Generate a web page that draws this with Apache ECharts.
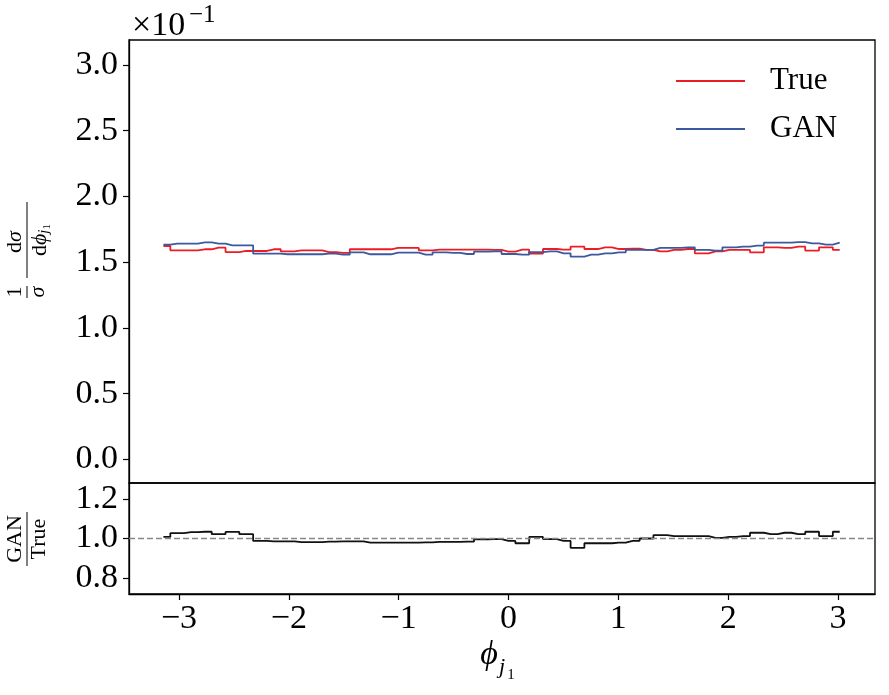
<!DOCTYPE html>
<html>
<head>
<meta charset="utf-8">
<script src="https://cdn.jsdelivr.net/npm/echarts@6/dist/echarts.min.js"></script>
<style>
html, body { margin: 0; padding: 0; background: #fff; }
#chart { width: 889px; height: 695px; }
</style>
</head>
<body>
<div id="chart"></div>
<script>
// binning in phi_j1 (50 bins over [-pi, pi])
const nBins = 50;
const phiMin = -Math.PI;
const phiMax = Math.PI;

// 1/sigma dsigma/dphi, in units of 1e-1
const trueVals = [
    1.623, 1.590, 1.590, 1.598, 1.610, 1.577, 1.585, 1.585, 1.598, 1.582,
    1.590, 1.590, 1.577, 1.570, 1.598, 1.598, 1.598, 1.608, 1.608, 1.590,
    1.595, 1.595, 1.595, 1.595, 1.593, 1.580, 1.595, 1.565, 1.600, 1.595,
    1.618, 1.600, 1.613, 1.600, 1.603, 1.593, 1.582, 1.593, 1.600, 1.567,
    1.582, 1.593, 1.593, 1.575, 1.613, 1.608, 1.618, 1.588, 1.613, 1.593
];
const ganVals = [
    1.633, 1.641, 1.641, 1.651, 1.641, 1.628, 1.628, 1.565, 1.565, 1.560,
    1.560, 1.560, 1.565, 1.557, 1.575, 1.560, 1.560, 1.572, 1.572, 1.557,
    1.575, 1.570, 1.562, 1.580, 1.582, 1.562, 1.557, 1.577, 1.582, 1.567,
    1.542, 1.557, 1.567, 1.575, 1.593, 1.593, 1.608, 1.608, 1.613, 1.593,
    1.588, 1.613, 1.618, 1.626, 1.648, 1.648, 1.653, 1.643, 1.633, 1.648
];
// GAN / True
const ratioVals = [
    1.008, 1.027, 1.032, 1.034, 1.022, 1.033, 1.022, 0.988, 0.985, 0.985,
    0.982, 0.982, 0.984, 0.986, 0.985, 0.979, 0.979, 0.979, 0.979, 0.980,
    0.983, 0.983, 0.984, 0.996, 0.997, 0.988, 0.976, 1.008, 0.997, 0.988,
    0.953, 0.976, 0.976, 0.979, 0.988, 1.000, 1.017, 1.012, 1.012, 1.012,
    1.003, 1.008, 1.012, 1.029, 1.022, 1.029, 1.022, 1.034, 1.012, 1.034
];

const xTicks = [-3, -2, -1, 0, 1, 2, 3];
const yTicksTop = [0, 0.5, 1, 1.5, 2, 2.5, 3];
const yTicksRatio = [0.8, 1.0, 1.2];

const FONT = '"Liberation Serif", "DejaVu Serif", serif';
const binW = (phiMax - phiMin) / nBins;
const binX = trueVals.map((_, i) => phiMin + i * binW);
const pairs = vals => vals.map((v, i) => [binX[i], v]);
const minus = v => (v < 0 ? '\u2212' + Math.abs(v) : String(v));

const chart = echarts.init(document.getElementById('chart'));

const tickStyle = { color: '#000', width: 1.2 };
const axisLine = { show: true, onZero: false, lineStyle: { color: '#000', width: 1.3 } };

chart.setOption({
    animation: false,
    textStyle: { fontFamily: FONT },
    grid: [
        { left: 129, top: 40, width: 746, height: 443, show: true, borderColor: '#000', borderWidth: 1.3, outerBoundsMode: 'none' },
        { left: 129, top: 483, width: 746, height: 111, show: true, borderColor: '#000', borderWidth: 1.3, outerBoundsMode: 'none' }
    ],
    legend: {
        data: ['True', 'GAN'],
        orient: 'vertical',
        left: 676,
        top: 64,
        padding: 0,
        icon: 'rect',
        itemWidth: 69,
        itemHeight: 2,
        itemGap: 14,
        textStyle: { fontFamily: FONT, fontSize: 31, color: '#000', lineHeight: 34, padding: [0, 0, 0, 20] }
    },
    xAxis: [
        {
            gridIndex: 0, type: 'value', min: -3.455, max: 3.337,
            axisLine: { show: false, onZero: false }, axisTick: { show: false },
            axisLabel: { show: false }, splitLine: { show: false }
        },
        {
            gridIndex: 1, type: 'value', min: -3.455, max: 3.337,
            axisLine: axisLine,
            axisTick: { show: true, customValues: xTicks, length: 6, lineStyle: tickStyle },
            axisLabel: {
                customValues: xTicks, formatter: minus, margin: 8,
                fontFamily: FONT, fontSize: 34, color: '#000'
            },
            splitLine: { show: false }
        }
    ],
    yAxis: [
        {
            gridIndex: 0, type: 'value', min: -0.18, max: 3.19,
            axisLine: axisLine,
            axisTick: { show: true, customValues: yTicksTop, length: 6, lineStyle: tickStyle },
            axisLabel: {
                customValues: yTicksTop, formatter: v => v.toFixed(1), margin: 11,
                fontFamily: FONT, fontSize: 34, color: '#000'
            },
            splitLine: { show: false }
        },
        {
            gridIndex: 1, type: 'value', min: 0.72, max: 1.28,
            axisLine: axisLine,
            axisTick: { show: true, customValues: yTicksRatio, length: 6, lineStyle: tickStyle },
            axisLabel: {
                customValues: yTicksRatio, formatter: v => v.toFixed(1), margin: 11,
                fontFamily: FONT, fontSize: 34, color: '#000'
            },
            splitLine: { show: false }
        }
    ],
    series: [
        {
            name: 'True', type: 'line', xAxisIndex: 0, yAxisIndex: 0,
            data: pairs(trueVals), step: 'middle', symbol: 'none',
            color: '#ec1c24', lineStyle: { color: '#ec1c24', width: 1.8 }
        },
        {
            name: 'GAN', type: 'line', xAxisIndex: 0, yAxisIndex: 0,
            data: pairs(ganVals), step: 'middle', symbol: 'none',
            color: '#3b5a9d', lineStyle: { color: '#3b5a9d', width: 1.8 }
        },
        {
            name: 'ratio', type: 'line', xAxisIndex: 1, yAxisIndex: 1,
            data: pairs(ratioVals), step: 'middle', symbol: 'none',
            color: '#111', lineStyle: { color: '#111', width: 1.8 },
            markLine: {
                silent: true, symbol: ['none', 'none'], label: { show: false },
                lineStyle: { type: [6, 3], color: '#888', width: 1.4 },
                data: [{ yAxis: 1 }]
            }
        }
    ],
    graphic: [
        // offset text above the top panel
        { type: 'text', left: 132, top: 9, style: { text: '×10', fontFamily: FONT, fontSize: 34, fill: '#000' } },
        { type: 'text', left: 189, top: 3, style: { text: '\u22121', fontFamily: FONT, fontSize: 25, fill: '#000' } },
        // y label of the top panel: 1/sigma dsigma/dphi_j1
        {
            type: 'group', x: 27, y: 248, rotation: Math.PI / 2,
            children: [
                { type: 'text', x: -44, y: -12, style: { text: '1', fontFamily: FONT, fontSize: 22, fill: '#000', align: 'center', verticalAlign: 'middle' } },
                { type: 'line', shape: { x1: -50, y1: 0, x2: -38, y2: 0 }, style: { stroke: '#000', lineWidth: 1 } },
                { type: 'text', x: -44, y: 11, style: { text: 'σ', fontFamily: FONT, fontStyle: 'italic', fontSize: 22, fill: '#000', align: 'center', verticalAlign: 'middle' } },
                { type: 'text', x: 6, y: -12, style: { text: '{r|d}{i|σ}', fontFamily: FONT, fontSize: 22, fill: '#000', align: 'center', verticalAlign: 'middle',
                    rich: { r: { fontFamily: FONT, fontSize: 22 }, i: { fontFamily: FONT, fontSize: 22, fontStyle: 'italic' } } } },
                { type: 'line', shape: { x1: -30, y1: 0, x2: 46, y2: 0 }, style: { stroke: '#000', lineWidth: 1 } },
                { type: 'text', x: 8, y: 13, style: { text: '{r|d}{i|ϕ}{s|j}{t|1}', fontFamily: FONT, fontSize: 22, fill: '#000', align: 'center', verticalAlign: 'middle',
                    rich: {
                        r: { fontFamily: FONT, fontSize: 22 },
                        i: { fontFamily: FONT, fontSize: 22, fontStyle: 'italic' },
                        s: { fontFamily: FONT, fontSize: 15, fontStyle: 'italic', padding: [8, 0, 0, 0] },
                        t: { fontFamily: FONT, fontSize: 11, padding: [14, 0, 0, 0] }
                    } } }
            ]
        },
        // y label of the ratio panel: GAN / True
        {
            type: 'group', x: 27, y: 539, rotation: Math.PI / 2,
            children: [
                { type: 'text', x: 0, y: -12, style: { text: 'GAN', fontFamily: FONT, fontSize: 22, fill: '#000', align: 'center', verticalAlign: 'middle' } },
                { type: 'line', shape: { x1: -27, y1: 0, x2: 27, y2: 0 }, style: { stroke: '#000', lineWidth: 1 } },
                { type: 'text', x: 0, y: 12, style: { text: 'True', fontFamily: FONT, fontSize: 22, fill: '#000', align: 'center', verticalAlign: 'middle' } }
            ]
        },
        // x label: phi_j1
        { type: 'text', x: 489, y: 655, style: { text: 'ϕ', fontFamily: FONT, fontStyle: 'italic', fontSize: 34, fill: '#000', align: 'center', verticalAlign: 'middle' } },
        { type: 'text', x: 502, y: 667, style: { text: 'j', fontFamily: FONT, fontStyle: 'italic', fontSize: 22, fill: '#000', align: 'center', verticalAlign: 'middle' } },
        { type: 'text', x: 511, y: 675, style: { text: '1', fontFamily: FONT, fontSize: 15, fill: '#000', align: 'center', verticalAlign: 'middle' } }
    ]
});

window.addEventListener('resize', function() {
    chart.resize();
});
</script>
</body>
</html>
